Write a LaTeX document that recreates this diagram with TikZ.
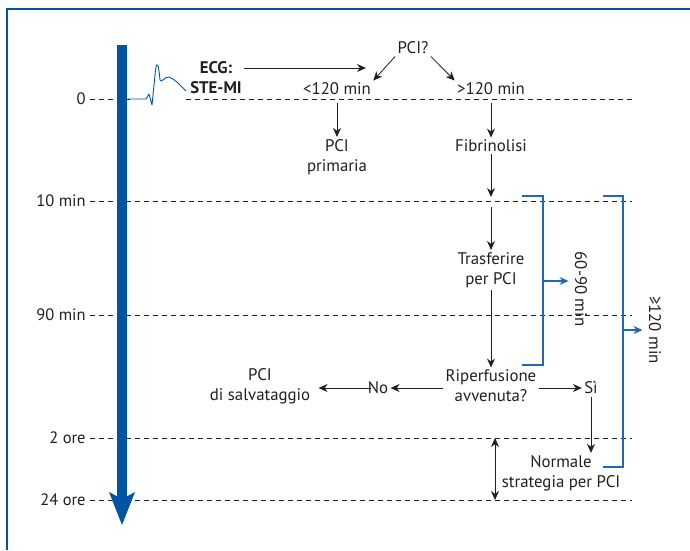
\documentclass[tikz,border=0pt]{standalone}
\usepackage{fontspec}
\setmainfont{PT Sans}
\usetikzlibrary{arrows.meta}
\definecolor{axisblue}{HTML}{0054A2}
\definecolor{brblue}{HTML}{1F69B4}
\definecolor{ink}{HTML}{231F20}
\newcommand{\lblsize}{\fontsize{16.8}{20}\selectfont}

\begin{document}
\begin{tikzpicture}[x=1pt, y=-1pt, line width=0.8pt,
  lbl/.style={inner sep=2pt, font=\lblsize, text=ink, align=center},
  tick/.style={anchor=east, inner sep=0pt, font=\fontsize{16.5}{18}\selectfont, text=ink},
  grid/.style={ink, dash pattern=on 5pt off 4pt, line width=0.9pt},
  arr/.style={ink, -{Stealth[length=9pt,width=8pt]}},
  darr/.style={ink, {Stealth[length=9pt,width=8pt]}-{Stealth[length=9pt,width=8pt]}},
  brk/.style={brblue, line width=1.2pt},
  barr/.style={brblue, line width=1.2pt, -{Stealth[length=9pt,width=8pt]}}]
  \useasboundingbox (0,0) rectangle (690,550);
  \draw[axisblue, line width=1.5pt] (7,550) |- (690,9);

  % time scale
  \node[tick] (l0) at (86,99) {0};
  \draw[grid] (90,99) -- (130,99) (186,99) -- (632,99);
  \foreach \y/\t/\n in {201/10 min/l10, 315/90 min/l90, 438/2 ore/l2, 500/24 ore/l24} {
    \node[tick] (\n) at (86,\y) {\t};
    \draw[grid] (90,\y) -- (632,\y);
  }
  \fill[axisblue] (117,45) rectangle (127,500);
  \fill[axisblue] (109,492) -- (122,525) -- (135,492) -- (122,499) -- cycle;

  % ECG trace
  \draw[axisblue, line width=0.9pt, line join=round] (128,99) -- (146,99) -- (149,94) -- (152,105)
    -- (155.5,70) .. controls (157,60) and (158.5,64) .. (160,80)
    .. controls (161,84) and (165,76) .. (169,77)
    .. controls (175,79) and (180,85) .. (186,91);

  \node[lbl, font=\lblsize\bfseries] (ecg) at (216,78) {ECG:\\STE-MI};
  \node[lbl] (pci) at (413,48) {PCI?};
  \node[lbl] (lt) at (337,89) {<120 min};
  \node[lbl] (gt) at (491,89) {>120 min};
  \node[lbl] (prim) at (337,157) {PCI\\primaria};
  \node[lbl] (fib) at (491,146) {Fibrinolisi};
  \node[lbl] (tra) at (491,270) {Trasferire\\per PCI};
  \node[lbl] (rip) at (491,386) {Riperfusione\\avvenuta?};
  \node[lbl] (no) at (378,388) {No};
  \node[lbl] (salv) at (260,386) {PCI\\di salvataggio};
  \node[lbl] (si) at (591,388) {Sì};
  \node[lbl] (norm) at (561,473) {Normale\\strategia per PCI};

  \coordinate (ecgend) at (366,68);
  \draw[arr] (ecg.east |- ecgend) -- (ecgend);
  \draw[arr] (pci.south west) -- (lt.north east);
  \draw[arr] (pci.south east) -- (gt.north west);
  \draw[arr, shorten <=4pt] (lt |- l0) -- (prim);
  \draw[arr, shorten <=4pt] (gt |- l0) -- (fib);
  \draw[arr, shorten >=4pt] (fib) -- (fib |- l10);
  \draw[arr, shorten <=6pt] (fib |- l10) -- (tra);
  \draw[arr] (tra) -- (rip);
  \draw[arr] (rip.west |- no) -- (no);
  \draw[arr, shorten <=-6pt, shorten >=6pt] (no) -- (salv.east |- no);
  \draw[arr] (rip.east |- si) -- (si);
  \draw[arr] (si) -- (norm.north -| si);
  \coordinate (dd) at (495,0);
  \draw[darr] (dd |- l2) -- (dd |- l24);

  % intervals
  \draw[brk] (522,196) -| (543,365) -- (522,365);
  \coordinate (b1) at (543,281);
  \node[lbl, rotate=-90] (d1) at (581,289) {60-90 min};
  \draw[barr, shorten >=4pt] (b1) -- (b1 -| d1.south);
  \draw[brk] (603,196) -| (623,467) -- (603,467);
  \coordinate (b2) at (623,330);
  \node[lbl, rotate=-90] (d2) at (655,330) {≥120 min};
  \draw[barr, shorten >=4pt] (b2) -- (b2 -| d2.south);
\end{tikzpicture}
\end{document}
